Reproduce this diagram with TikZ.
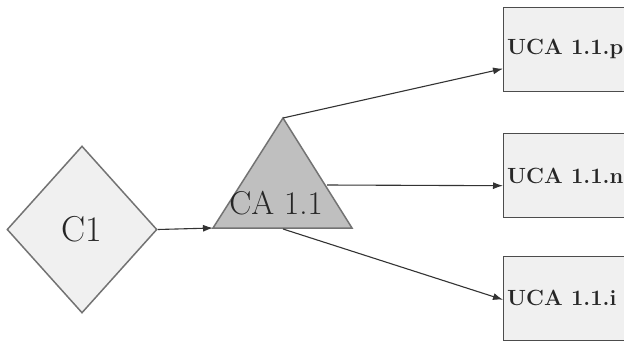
\documentclass[tikz,border=0pt]{standalone}
\usetikzlibrary{shapes.geometric,arrows.meta}
\begin{document}
\begin{tikzpicture}[x=1pt,y=-1pt,
  conn/.style={draw=black!80,line width=1.1pt,-{Latex[length=10pt,width=7pt]}},
  ucabox/.style={draw=black!70,line width=1.4pt,fill=black!6,minimum width=140pt,minimum height=84pt,anchor=north west,inner sep=0pt},
  ucatext/.style={anchor=west,font=\bfseries\fontsize{22}{24}\selectfont,text=black!85,inner sep=0pt},
  lbl/.style={font=\fontsize{33}{36}\selectfont,text=black!85,inner sep=0pt}]
\useasboundingbox (0,0) rectangle (624,341);
\clip (0,0) rectangle (624,341);
% diamond
\node[diamond,draw=black!55,line width=1.5pt,fill=black!6,minimum width=150pt,minimum height=167pt,inner sep=0pt] (c1) at (82,229.5) {};
\node[lbl,font=\fontsize{36}{40}\selectfont] (c1t) at (82,229) {C1};
% triangle
\coordinate (apex) at (283,118);
\coordinate (bl) at (213,228);
\coordinate (br) at (352,228);
\coordinate (bm) at (283,229);
\coordinate (te) at (327,185);
\filldraw[fill=black!25,draw=black!55,line width=1.5pt] (apex) -- (br) -- (bl) -- cycle;
\node[lbl] (cat) at (276,203) {CA 1.1};
% boxes
\node[ucabox] (b1) at (503,7) {};
\node[ucabox] (b2) at (503,133) {};
\node[ucabox] (b3) at (503,256) {};
\node[ucatext] (t1) at (507,49) {UCA 1.1.p};
\node[ucatext] (t2) at (507,176) {UCA 1.1.n};
\node[ucatext] (t3) at (507,298) {UCA 1.1.i};
% connectors
\draw[conn] (c1.east) -- (bl);
\draw[conn] (apex) -- ([yshift=-19pt]b1.west);
\draw[conn] (te) -- ([yshift=-10pt]b2.west);
\draw[conn] (bm) -- ([yshift=-1pt]b3.west);
\end{tikzpicture}
\end{document}
